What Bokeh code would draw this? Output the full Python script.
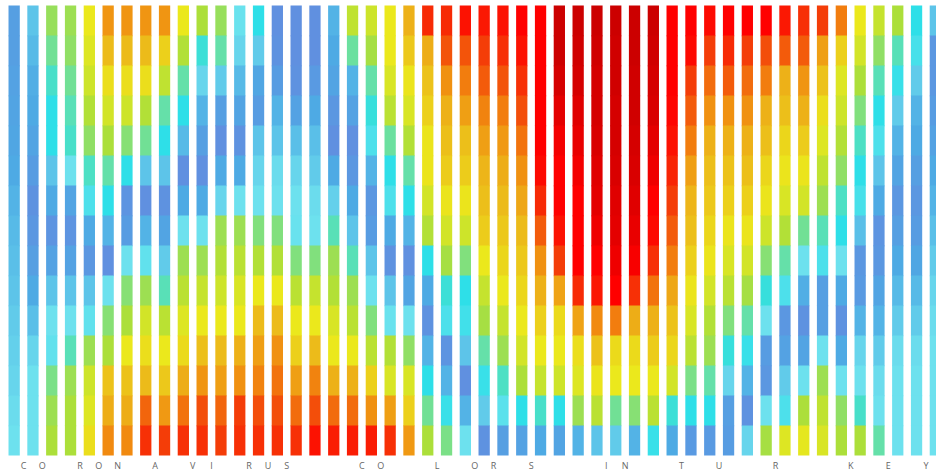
import numpy as np
from bokeh.plotting import figure
from bokeh.models import Range1d, ColumnDataSource, LinearColorMapper, GlobalInlineStyleSheet
from bokeh.transform import transform
from bokeh.core.properties import value
from bokeh.embed import file_html
from bokeh.resources import INLINE

# letters written under the stripes ("" = no letter)
labels = ["C","O","","R","O","N","","A","","V","I","","R","U","S","","","",
          "C","O","","","L","","O","R","","S","","","","I","N","","","T","",
          "U","","","R","","","","K","","E","","Y",""]

# colour level of each stripe, top -> bottom (0 = blue ... 11 = dark red)
s00 = [0.6,0.6,0.7,0.8,0.9,1.0,1.2,1.3,1.4,1.5,1.6,1.7,1.8,1.9,2.0]
s01 = [1.5,1.3,1.1,1.0,0.8,0.5,0.1,0.3,0.6,1.0,1.4,1.8,2.0,2.0,2.0]
s02 = [4.7,4.2,3.5,3.0,3.0,1.5,1.0,0.2,0.7,1.5,2.0,2.2,4.3,4.8,5.0]
s03 = [4.8,4.6,4.2,3.8,3.5,2.0,0.8,0.2,0.7,1.5,2.0,3.8,4.8,5.0,5.0]
s04 = [6.0,5.8,5.5,5.1,4.6,3.6,2.5,1.0,0.3,1.5,2.2,4.8,5.5,5.8,6.2]
s05 = [7.8,7.0,6.2,5.6,5.0,4.0,3.0,1.2,0.0,2.0,4.5,5.0,6.8,7.3,8.0]
s06 = [7.8,7.0,6.2,5.5,4.5,3.0,0.2,0.5,2.0,4.5,5.0,6.0,6.8,7.3,8.0]
s07 = [7.8,7.0,6.2,5.1,4.2,1.5,0.0,1.2,2.2,4.8,5.6,6.2,7.0,8.5,9.2]
s08 = [7.8,6.5,5.3,4.0,3.0,1.5,0.1,0.8,1.6,3.8,5.2,6.0,6.7,7.7,9.0]
s09 = [6.0,5.1,4.0,3.0,1.3,0.0,1.0,2.0,4.8,5.2,5.8,6.3,7.3,8.3,9.2]
s10 = [5.0,3.3,1.8,1.2,0.6,0.0,1.0,2.0,4.8,5.4,6.0,6.9,7.8,8.8,9.2]
s11 = [4.7,4.0,1.6,0.6,0.0,1.0,1.8,4.8,5.1,5.5,6.0,7.0,7.6,8.5,9.0]
s12 = [2.1,1.8,1.3,0.8,0.1,1.0,2.0,4.8,5.2,5.7,6.0,7.2,7.9,9.0,9.2]
s13 = [3.0,1.6,0.9,0.5,1.5,1.8,2.0,4.4,5.1,6.0,7.0,7.6,8.1,8.8,9.2]
s14 = [0.0,0.1,0.5,1.2,1.5,1.9,2.0,4.4,5.1,6.0,7.0,7.9,8.3,8.8,9.2]
s15 = [0.0,0.0,0.1,0.7,1.4,1.8,2.0,2.1,4.4,5.2,6.0,6.5,7.6,8.4,9.2]
s16 = [0.0,0.0,0.4,1.0,1.4,1.6,1.9,2.0,4.4,5.4,6.0,7.0,8.1,8.8,9.7]
s17 = [1.2,1.0,0.8,0.3,0.0,1.0,1.7,3.8,4.8,5.1,5.7,6.0,7.2,8.4,9.5]
s18 = [5.3,4.1,1.2,0.7,0.0,0.3,1.0,1.5,3.8,4.8,5.2,6.0,7.2,8.4,9.5]
s19 = [5.5,4.9,4.0,3.2,2.5,1.2,0.3,0.5,1.5,2.0,4.4,5.2,6.5,7.9,9.5]
s20 = [6.0,6.0,5.7,5.2,4.1,3.0,2.5,1.0,0.1,1.5,2.1,5.1,5.7,7.6,9.2]
s21 = [7.2,6.7,6.1,5.7,5.1,4.0,3.0,1.2,0.0,0.8,2.0,4.6,5.7,6.5,7.7]
s22 = [9.3,7.3,6.8,6.5,6.1,6.1,5.6,5.1,3.0,1.0,0.1,1.2,3.0,4.2,5.0]
s23 = [9.3,8.7,7.9,7.2,6.9,6.6,6.1,5.6,4.9,3.3,2.5,0.2,1.2,2.8,4.3]
s24 = [9.7,8.7,8.2,7.6,6.9,6.6,6.1,5.5,4.4,3.0,2.7,1.5,0.0,1.2,2.0]
s25 = [9.6,9.0,8.6,8.1,7.6,7.1,6.9,6.6,6.0,5.4,4.9,4.0,2.8,1.6,0.1]
s26 = [9.7,9.2,8.7,8.2,7.7,7.3,7.0,6.7,6.4,6.0,5.4,4.8,3.6,2.3,0.6]
s27 = [10.0,9.7,9.2,8.8,8.3,7.9,7.4,7.0,6.7,6.4,6.0,5.6,5.0,3.0,0.7]
s28 = [10.0,10.0,10.0,10.0,10.0,9.8,9.3,8.6,7.9,7.2,6.5,6.0,5.4,3.5,1.0]
s29 = [11.0,11.0,10.8,10.5,10.2,10.0,10.0,9.7,9.0,7.5,6.3,6.0,5.5,3.0,0.8]
s30 = [11.0,10.9,10.8,10.6,10.4,10.2,10.0,10.0,10.0,9.3,7.5,6.2,5.8,4.8,1.2]
s31 = [11.0,10.9,10.8,10.8,10.7,10.6,10.5,10.3,10.0,9.6,8.0,6.8,6.1,5.2,1.5]
s32 = [11.0,10.9,10.9,10.8,10.8,10.7,10.6,10.5,10.3,10.0,8.2,6.3,6.0,4.2,1.6]
s33 = [11.0,11.0,10.9,10.9,10.8,10.7,10.6,10.4,10.1,9.2,7.3,6.3,6.0,4.5,1.2]
s34 = [11.0,10.9,10.8,10.7,10.5,10.3,10.0,9.8,9.2,8.3,7.2,6.6,6.0,5.2,2.8]
s35 = [10.0,10.0,10.0,9.9,9.7,9.4,9.0,8.6,8.2,7.4,6.8,6.4,5.6,3.3,1.0]
s36 = [10.0,9.8,9.0,8.6,8.2,7.6,7.1,6.9,6.5,6.1,5.7,5.2,4.3,3.0,0.4]
s37 = [9.8,9.0,8.4,7.9,7.2,6.9,6.7,6.4,6.1,5.6,5.1,4.8,4.0,3.0,0.4]
s38 = [10.0,9.3,8.6,7.9,7.2,6.8,6.5,6.1,5.7,5.2,4.4,3.2,1.8,0.6,0.5]
s39 = [10.0,9.0,8.4,7.9,7.2,6.9,6.5,6.1,5.6,4.9,4.0,2.8,1.2,0.1,1.8]
s40 = [10.0,8.8,8.2,7.2,6.9,6.4,6.1,5.5,4.5,3.2,2.0,0.5,0.3,2.0,4.9]
s41 = [9.6,8.6,7.2,6.9,6.4,6.1,5.7,5.1,4.0,2.5,0.3,0.7,1.6,2.5,5.8]
s42 = [9.2,8.6,7.8,7.2,6.6,6.1,5.6,4.2,2.0,1.1,0.1,0.8,2.0,5.0,5.9]
s43 = [9.0,7.6,6.8,6.2,5.8,5.3,4.8,3.8,2.5,0.6,0.6,2.0,4.8,5.3,5.7]
s44 = [8.2,6.5,5.8,5.5,5.1,4.6,3.6,3.0,2.0,1.0,0.1,1.0,2.0,4.6,5.0]
s45 = [6.0,5.6,5.0,4.4,3.6,3.0,2.6,1.4,0.3,0.4,1.2,1.8,2.0,3.5,5.0]
s46 = [5.4,4.6,3.8,3.0,2.5,1.5,1.0,0.2,0.3,0.8,1.2,1.6,1.9,2.0,4.0]
s47 = [5.0,3.8,2.8,1.6,1.2,0.8,0.3,0.6,1.0,1.3,1.6,1.9,2.0,2.0,2.0]
s48 = [3.0,2.6,1.6,1.2,1.0,0.6,0.3,0.5,0.9,1.3,1.6,1.9,2.0,2.0,2.0]
s49 = [1.5,0.3,0.3,0.5,0.7,1.0,1.2,1.4,1.6,1.8,1.9,2.0,2.0,2.0,2.0]

stripes = [s00, s01, s02, s03, s04, s05, s06, s07, s08, s09,
           s10, s11, s12, s13, s14, s15, s16, s17, s18, s19,
           s20, s21, s22, s23, s24, s25, s26, s27, s28, s29,
           s30, s31, s32, s33, s34, s35, s36, s37, s38, s39,
           s40, s41, s42, s43, s44, s45, s46, s47, s48, s49]

# colour scale anchors (style)
anchors = ["#6090e0", "#4eaae4", "#6ee2ee", "#2cdfe8", "#64e0aa", "#acdf3a",
           "#ebe81c", "#ecba1a", "#f18c10", "#f43e08", "#ff0000", "#cc0000"]

def hex2rgb(h):
    return np.array([int(h[i:i + 2], 16) for i in (1, 3, 5)], dtype=float)

rgb = np.array([hex2rgb(h) for h in anchors])
pos = np.linspace(0, 1, len(anchors))
t = np.linspace(0, 1, 256)
palette = []
for tt in t:
    c = [np.interp(tt, pos, rgb[:, j]) for j in range(3)]
    palette.append("#%02x%02x%02x" % tuple(int(round(v)) for v in c))

mapper = LinearColorMapper(palette=palette, low=0, high=len(anchors) - 1)

# layout (pixels from the top of the page)
TOP, BAR_H, HALF_W = 5.0, 450.0, 0.3
n_lev = len(s00)
cell = BAR_H / n_lev

left, right, top, bottom, val = [], [], [], [], []
for i, s in enumerate(stripes):
    for k, v in enumerate(s):
        left.append(i - HALF_W)
        right.append(i + HALF_W)
        top.append(TOP + k * cell)
        bottom.append(min(TOP + (k + 1) * cell + 0.7, TOP + BAR_H))
        val.append(v)

src = ColumnDataSource(dict(left=left, right=right, top=top, bottom=bottom, val=val))

W, H = 936, 472
px = 18.8
x0 = -13.65 / px
p = figure(width=W, height=H, output_backend="svg", toolbar_location=None,
           x_range=Range1d(x0, x0 + W / px), y_range=Range1d(H, 0),
           min_border=0, min_border_left=0, min_border_right=0,
           min_border_top=0, min_border_bottom=0)
p.stylesheets = [GlobalInlineStyleSheet(css="html, body { margin: 0 !important; padding: 0; overflow: hidden; }")]
p.xaxis.visible = False
p.yaxis.visible = False
p.xgrid.visible = False
p.ygrid.visible = False
p.outline_line_color = None
p.background_fill_color = "white"
p.border_fill_color = "white"

p.quad(left="left", right="right", top="top", bottom="bottom", source=src,
       fill_color=transform("val", mapper), line_color=None)

lab_x = [i + 0.5 for i, l in enumerate(labels) if l]
lab_t = [l for l in labels if l]
p.text(x=lab_x, y=[465] * len(lab_x), text=lab_t, text_align="center",
       text_baseline="middle", text_font=value("Open Sans"),
       text_font_size="9px", text_color="#666666")

open("out.html", "w").write(file_html(p, INLINE))
